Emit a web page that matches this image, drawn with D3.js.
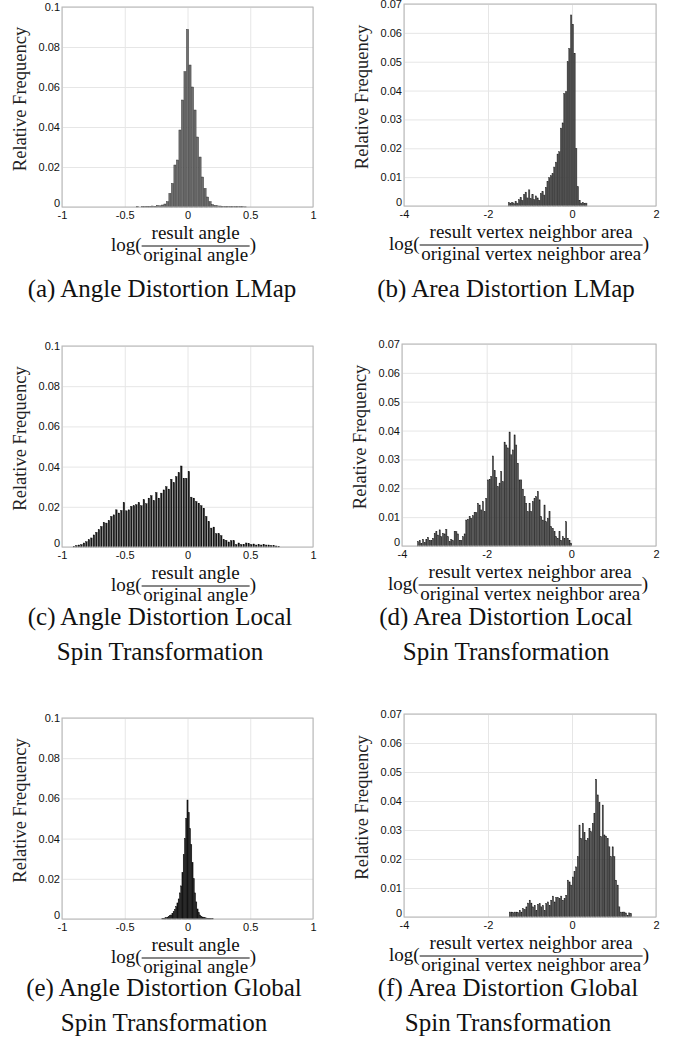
<!DOCTYPE html>
<html>
<head>
<meta charset="utf-8">
<script src="https://cdn.jsdelivr.net/npm/d3@7"></script>
<style>
  body { margin: 0; background: #fff; }
  svg { display: block; }
  .tick text { font-family: "Liberation Sans", Arial, sans-serif; font-size: 11px; fill: #111; }
</style>
</head>
<body>
<div id="chart"></div>
<script>
// ---- data (relative frequency per histogram bin) ----
// (a) angle distortion, LMap : bins of 0.02 starting at -0.40
const angleLMapStart = -0.40, angleLMapStep = 0.02
const angleLMap = [0.0003, 0.0000, 0.0003, 0.0002, 0.0004, 0.0003, 0.0005, 0.0004, 0.0008, 0.0006,
  0.0010, 0.0015, 0.0027, 0.0068, 0.0118, 0.0210, 0.0235, 0.0385, 0.0535, 0.0677,
  0.0888, 0.0710, 0.0600, 0.0485, 0.0350, 0.0250, 0.0150, 0.0093, 0.0050, 0.0027,
  0.0012, 0.0008, 0.0006, 0.0005, 0.0004, 0.0003, 0.0004, 0.0002, 0.0003, 0.0002,
  0.0003, 0.0002, 0.0002, 0.0001]

// (b) area distortion, LMap
const areaLMapStart = -1.50, areaLMapStep = 0.04
const areaLMap = [0.0012, 0.0010, 0.0013, 0.0008, 0.0016, 0.0010, 0.0022, 0.0030, 0.0020, 0.0040,
  0.0048, 0.0028, 0.0056, 0.0025, 0.0040, 0.0022, 0.0035, 0.0028, 0.0020, 0.0044,
  0.0050, 0.0038, 0.0065, 0.0085, 0.0098, 0.0105, 0.0112, 0.0135, 0.0152, 0.0180,
  0.0188, 0.0270, 0.0288, 0.0390, 0.0396, 0.0500, 0.0546, 0.0662, 0.0630, 0.0529,
  0.0200, 0.0067, 0.0020, 0.0010, 0.0012, 0.0008, 0.0010]

// (c) angle distortion, local spin transformation
const angleLocalStart = -0.905, angleLocalStep = 0.0199
const angleLocal = [0.0003, 0.0007, 0.0010, 0.0012, 0.0020, 0.0026, 0.0036, 0.0045, 0.0060, 0.0073,
  0.0086, 0.0102, 0.0122, 0.0119, 0.0132, 0.0152, 0.0160, 0.0185, 0.0169, 0.0182,
  0.0221, 0.0180, 0.0185, 0.0202, 0.0205, 0.0210, 0.0221, 0.0205, 0.0235, 0.0215,
  0.0243, 0.0255, 0.0231, 0.0271, 0.0243, 0.0268, 0.0284, 0.0300, 0.0288, 0.0337,
  0.0320, 0.0350, 0.0370, 0.0403, 0.0342, 0.0342, 0.0375, 0.0248, 0.0243, 0.0226,
  0.0218, 0.0205, 0.0193, 0.0152, 0.0127, 0.0094, 0.0099, 0.0066, 0.0066, 0.0056,
  0.0036, 0.0033, 0.0025, 0.0031, 0.0031, 0.0012, 0.0020, 0.0012, 0.0013, 0.0020,
  0.0017, 0.0012, 0.0015, 0.0010, 0.0012, 0.0010, 0.0013, 0.0010, 0.0010, 0.0007,
  0.0007, 0.0005, 0.0003]

// (d) area distortion, local spin transformation
const areaLocalStart = -3.62, areaLocalStep = 0.0393
const areaLocal = [0.0015, 0.0019, 0.0009, 0.0023, 0.0012, 0.0023, 0.0030, 0.0020, 0.0019, 0.0027,
  0.0044, 0.0050, 0.0038, 0.0056, 0.0032, 0.0044, 0.0042, 0.0058, 0.0032, 0.0015,
  0.0023, 0.0019, 0.0050, 0.0050, 0.0042, 0.0020, 0.0020, 0.0032, 0.0042, 0.0090,
  0.0093, 0.0102, 0.0096, 0.0105, 0.0116, 0.0116, 0.0148, 0.0142, 0.0125, 0.0154,
  0.0119, 0.0165, 0.0229, 0.0231, 0.0241, 0.0312, 0.0261, 0.0238, 0.0206, 0.0218,
  0.0258, 0.0223, 0.0360, 0.0350, 0.0340, 0.0395, 0.0316, 0.0333, 0.0385, 0.0350,
  0.0287, 0.0229, 0.0229, 0.0197, 0.0171, 0.0148, 0.0119, 0.0148, 0.0119, 0.0154,
  0.0165, 0.0171, 0.0189, 0.0160, 0.0102, 0.0090, 0.0142, 0.0084, 0.0096, 0.0119,
  0.0067, 0.0061, 0.0050, 0.0032, 0.0027, 0.0050, 0.0020, 0.0032, 0.0027, 0.0084,
  0.0027, 0.0020, 0.0010]

// (e) angle distortion, global spin transformation
const angleGlobalStart = -0.20, angleGlobalStep = 0.01
const angleGlobal = [0.0003, 0.0004, 0.0005, 0.0007, 0.0009, 0.0012, 0.0016, 0.0020, 0.0028, 0.0036,
  0.0048, 0.0062, 0.0080, 0.0100, 0.0130, 0.0165, 0.0230, 0.0320, 0.0400, 0.0500,
  0.0592, 0.0530, 0.0450, 0.0370, 0.0280, 0.0200, 0.0130, 0.0085, 0.0050, 0.0032,
  0.0020, 0.0014, 0.0010, 0.0008, 0.0006, 0.0005, 0.0004, 0.0003, 0.0002, 0.0002, 0.0001]

// (f) area distortion, global spin transformation
const areaGlobalStart = -1.48, areaGlobalStep = 0.0395
const areaGlobal = [0.0017, 0.0017, 0.0015, 0.0017, 0.0017, 0.0015, 0.0023, 0.0017, 0.0029, 0.0025,
  0.0035, 0.0048, 0.0058, 0.0048, 0.0035, 0.0040, 0.0023, 0.0044, 0.0046, 0.0035,
  0.0040, 0.0023, 0.0046, 0.0052, 0.0040, 0.0058, 0.0072, 0.0052, 0.0067, 0.0067,
  0.0063, 0.0072, 0.0058, 0.0063, 0.0075, 0.0127, 0.0121, 0.0110, 0.0138, 0.0156,
  0.0173, 0.0208, 0.0317, 0.0271, 0.0323, 0.0291, 0.0265, 0.0271, 0.0306, 0.0294,
  0.0323, 0.0358, 0.0475, 0.0421, 0.0394, 0.0277, 0.0386, 0.0283, 0.0279, 0.0271,
  0.0242, 0.0208, 0.0242, 0.0208, 0.0127, 0.0110, 0.0035, 0.0017, 0.0017, 0.0017,
  0.0014, 0.0006, 0.0014, 0.0012]

// axes ticks
const angleXTicks = [-1, -0.5, 0, 0.5, 1]
const areaXTicks = [-4, -2, 0, 2]
const angleYTicks = [0, 0.02, 0.04, 0.06, 0.08, 0.1]
const areaYTicks = [0, 0.01, 0.02, 0.03, 0.04, 0.05, 0.06, 0.07]

const angleNum = 'result angle', angleDen = 'original angle'
const areaNum = 'result vertex neighbor area', areaDen = 'original vertex neighbor area'

const panels = [
  { values: angleLMap, start: angleLMapStart, step: angleLMapStep, kind: 'angle',
    box: [62, 313, 7, 207], caption: ['(a) Angle Distortion LMap'], capY: 297, capX: 162,
    fill: '#707070', stroke: '#222', frac: 0.85 },
  { values: areaLMap, start: areaLMapStart, step: areaLMapStep, kind: 'area',
    box: [404, 656, 4, 206], caption: ['(b) Area Distortion LMap'], capY: 297, capX: 506,
    fill: '#4a4a4a', stroke: '#2a2a2a', frac: 0.85 },
  { values: angleLocal, start: angleLocalStart, step: angleLocalStep, kind: 'angle',
    box: [62, 313, 346, 547], caption: ['(c) Angle Distortion Local', 'Spin Transformation'], capY: 625, capX: 160,
    fill: '#1a1a1a', stroke: '#000', frac: 0.6 },
  { values: areaLocal, start: areaLocalStart, step: areaLocalStep, kind: 'area',
    box: [402, 656, 344, 546], caption: ['(d) Area Distortion Local', 'Spin Transformation'], capY: 625, capX: 506,
    fill: '#444', stroke: '#1a1a1a', frac: 0.7 },
  { values: angleGlobal, start: angleGlobalStart, step: angleGlobalStep, kind: 'angle',
    box: [62, 313, 718, 919], caption: ['(e) Angle Distortion Global', 'Spin Transformation'], capY: 996, capX: 164,
    fill: '#1a1a1a', stroke: '#0a0a0a', frac: 0.9 },
  { values: areaGlobal, start: areaGlobalStart, step: areaGlobalStep, kind: 'area',
    box: [404, 656, 714, 917], caption: ['(f) Area Distortion Global', 'Spin Transformation'], capY: 996, capX: 508,
    fill: '#444', stroke: '#1a1a1a', frac: 0.7 }
]

const serif = '"Liberation Serif", "Times New Roman", serif'

const svg = d3.select('#chart').append('svg')
  .attr('width', 683)
  .attr('height', 1051)

svg.append('rect').attr('width', 683).attr('height', 1051).attr('fill', '#fff')

panels.forEach(p => {
  const [left, right, top, bottom] = p.box
  const isAngle = p.kind === 'angle'
  const x = d3.scaleLinear().domain(isAngle ? [-1, 1] : [-4, 2]).range([left, right])
  const y = d3.scaleLinear().domain(isAngle ? [0, 0.1] : [0, 0.07]).range([bottom, top])
  const g = svg.append('g')

  // grid + tick labels
  const yAxis = g.append('g').attr('transform', `translate(${left},0)`)
    .call(d3.axisLeft(y)
      .tickValues(isAngle ? angleYTicks : areaYTicks)
      .tickFormat(d => d === 0 ? '0' : String(+d.toFixed(2)))
      .tickSize(-(right - left)).tickPadding(2))
  yAxis.select('.domain').remove()
  yAxis.selectAll('.tick line').attr('stroke', '#e6e6e6')
  // the zero label sits a little higher, clear of the first x label
  yAxis.selectAll('.tick text').filter(d => d === 0).attr('dy', '-0.05em')

  const xAxis = g.append('g').attr('transform', `translate(0,${bottom})`)
    .call(d3.axisBottom(x)
      .tickValues(isAngle ? angleXTicks : areaXTicks)
      .tickFormat(d => String(d))
      .tickSize(-(bottom - top)).tickPadding(4))
  xAxis.select('.domain').remove()
  xAxis.selectAll('.tick line').attr('stroke', '#e6e6e6')

  // bars
  const bins = p.values.map((v, i) => ({ c: p.start + i * p.step, v }))
  g.append('g').selectAll('rect')
    .data(bins.filter(d => d.v > 0))
    .enter()
    .append('rect')
      .attr('x', d => x(d.c - p.step * p.frac / 2))
      .attr('width', d => x(d.c + p.step * p.frac / 2) - x(d.c - p.step * p.frac / 2))
      .attr('y', d => y(d.v))
      .attr('height', d => y(0) - y(d.v))
      .attr('fill', p.fill)
      .attr('stroke', p.stroke)
      .attr('stroke-width', 0.4)

  // axes box
  g.append('rect')
    .attr('x', left).attr('y', top)
    .attr('width', right - left).attr('height', bottom - top)
    .attr('fill', 'none').attr('stroke', '#b4b4b4').attr('stroke-width', 1)

  // y label
  g.append('text')
    .attr('transform', `translate(${left - 36},${(top + bottom) / 2 - 8}) rotate(-90)`)
    .attr('text-anchor', 'middle')
    .style('font-family', serif)
    .style('font-size', '18.5px')
    .attr('fill', '#222')
    .text('Relative Frequency')

  // x label: log( fraction )
  const lineY = bottom + 39
  const lab = g.append('g')
  const logT = lab.append('text').attr('y', lineY + 4.5)
    .style('font-family', serif).style('font-size', '19px').attr('fill', '#111').text('log(')
  const num = lab.append('text').attr('y', lineY - 7).attr('text-anchor', 'middle')
    .style('font-family', serif).style('font-size', '19px').attr('fill', '#111')
    .text(isAngle ? angleNum : areaNum)
  const den = lab.append('text').attr('y', lineY + 14.5).attr('text-anchor', 'middle')
    .style('font-family', serif).style('font-size', '19px').attr('fill', '#111')
    .text(isAngle ? angleDen : areaDen)
  const close = lab.append('text').attr('y', lineY + 4.5)
    .style('font-family', serif).style('font-size', '19px').attr('fill', '#111').text(')')
  const logW = logT.node().getComputedTextLength()
  const fracW = Math.max(num.node().getComputedTextLength(), den.node().getComputedTextLength()) + 3
  const closeW = close.node().getComputedTextLength()
  const total = logW + fracW + closeW
  const cx = isAngle ? (left + right) / 2 - 4 : (left + right) / 2 - 11
  const x0 = cx - total / 2
  logT.attr('x', x0)
  num.attr('x', x0 + logW + fracW / 2)
  den.attr('x', x0 + logW + fracW / 2)
  close.attr('x', x0 + logW + fracW)
  lab.append('line')
    .attr('x1', x0 + logW).attr('x2', x0 + logW + fracW)
    .attr('y1', lineY).attr('y2', lineY)
    .attr('stroke', '#111').attr('stroke-width', 1)

  // caption
  p.caption.forEach((line, i) => {
    g.append('text')
      .attr('x', p.capX).attr('y', p.capY + i * 35)
      .attr('text-anchor', 'middle')
      .style('font-family', serif)
      .style('font-size', '25px')
      .attr('fill', '#111')
      .text(line)
  })
})
</script>
</body>
</html>
